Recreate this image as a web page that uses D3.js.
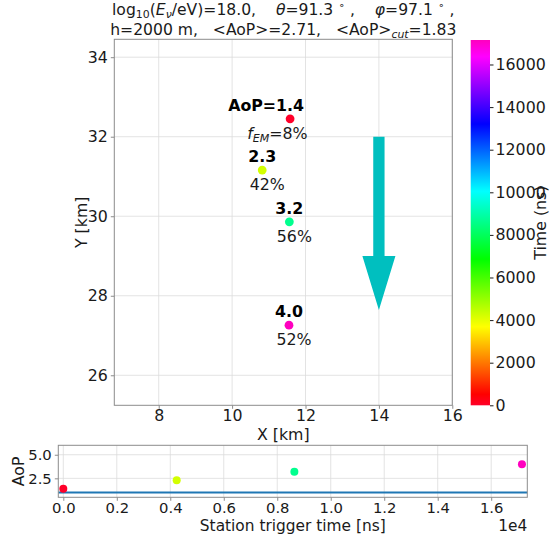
<!DOCTYPE html>
<html>
<head>
<meta charset="utf-8">
<script src="https://cdn.jsdelivr.net/npm/d3@7"></script>
<style>
  body { margin: 0; background: #fff; }
  svg { font-family: "DejaVu Sans", sans-serif; }
</style>
</head>
<body>
<svg width="551" height="539"></svg>
<script>
// station data
var stationX = [11.58, 10.82, 11.56, 11.55];      // km
var stationY = [32.45, 31.16, 29.86, 27.26];      // km
var triggerTime = [0, 4240, 8640, 17150];         // ns
var aopValues = [1.4, 2.3, 3.2, 4.0];
var fEMValues = [8, 42, 56, 52];                  // %
var aopCut = 1.0;

// shower direction arrow (km)
var arrowStart = [14, 32];
var arrowHeadBase = 29;
var arrowTip = 27.64;

var xTicks = [8, 10, 12, 14, 16];
var yTicks = [26, 28, 30, 32, 34];
var timeTicks = [0, 0.2, 0.4, 0.6, 0.8, 1.0, 1.2, 1.4, 1.6];  // x 1e4
var aopTicks = [2.5, 5.0];
var cbarTicks = [0, 2000, 4000, 6000, 8000, 10000, 12000, 14000, 16000];

var fs = 15.8;
var titleFs = 15.6;
var textColor = "#1a1a1a";
var spineColor = "#8c8c8c";
var gridColor = "#dcdcdc";
var sp = "\u00a0";

// matplotlib gist_rainbow
var gistRainbow = [
    [0.000, [1.00, 0.00, 0.16]],
    [0.030, [1.00, 0.00, 0.00]],
    [0.215, [1.00, 1.00, 0.00]],
    [0.400, [0.00, 1.00, 0.00]],
    [0.586, [0.00, 1.00, 1.00]],
    [0.770, [0.00, 0.00, 1.00]],
    [0.954, [1.00, 0.00, 1.00]],
    [1.000, [1.00, 0.00, 0.75]]
];
function cmap(t) {
    t = Math.max(0, Math.min(1, t));
    for (var i = 1; i < gistRainbow.length; i++) {
        var a = gistRainbow[i - 1], b = gistRainbow[i];
        if (t <= b[0]) {
            var f = (t - a[0]) / (b[0] - a[0]);
            var c = a[1].map((v, k) => Math.round(255 * (v + f * (b[1][k] - v))));
            return d3.rgb(c[0], c[1], c[2]).formatHex();
        }
    }
    return "#ff00bf";
}
var vmax = d3.max(triggerTime);
var color = (t) => cmap(t / vmax);

var svg = d3.select("svg");

// rich text helper (italic / sub / sup pieces)
function rich(sel, parts, size) {
    var shift = 0;
    parts.forEach(function (p) {
        var target = p.sub ? 0.22 * size : p.sup ? -0.38 * size : 0;
        sel.append("tspan")
            .attr("dy", target - shift)
            .style("font-size", (p.sub || p.sup) ? size * 0.7 + "px" : size + "px")
            .style("font-style", p.it ? "italic" : null)
            .text(p.t.replace(/ /g, sp));
        shift = target;
    });
    return sel;
}

function textWidth(str, weight) {
    var t = svg.append("text").style("font-size", fs + "px")
        .style("font-weight", weight || null).text(str);
    var w = t.node().getComputedTextLength();
    t.remove();
    return w;
}

// ---------- main map ----------
var x = d3.scaleLinear().domain([6.79, 16]).range([114.3, 452.3]);
var y = d3.scaleLinear().domain([25.245, 34.45]).range([405.3, 39.3]);

var main = svg.append("g");

main.selectAll(".gx").data(xTicks).enter().append("line")
    .attr("x1", d => x(d)).attr("x2", d => x(d))
    .attr("y1", y.range()[0]).attr("y2", y.range()[1])
    .attr("stroke", gridColor).attr("stroke-width", 0.8);
main.selectAll(".gy").data(yTicks).enter().append("line")
    .attr("y1", d => y(d)).attr("y2", d => y(d))
    .attr("x1", x.range()[0]).attr("x2", x.range()[1])
    .attr("stroke", gridColor).attr("stroke-width", 0.8);

var xAxis = main.append("g").attr("transform", "translate(0," + y.range()[0] + ")")
    .call(d3.axisBottom(x).tickValues(xTicks).tickSize(3.5).tickPadding(0.5).tickFormat(d3.format("d")));
var yAxis = main.append("g").attr("transform", "translate(" + x.range()[0] + ",0)")
    .call(d3.axisLeft(y).tickValues(yTicks).tickSize(3.5).tickPadding(3).tickFormat(d3.format("d")));
[xAxis, yAxis].forEach(function (a) {
    a.select(".domain").remove();
    a.selectAll("line").attr("stroke", spineColor);
    a.selectAll("text").style("font-size", fs + "px").attr("fill", textColor).style("font-family", "DejaVu Sans");
});

main.append("rect")
    .attr("x", x.range()[0]).attr("y", y.range()[1])
    .attr("width", x.range()[1] - x.range()[0]).attr("height", y.range()[0] - y.range()[1])
    .attr("fill", "none").attr("stroke", spineColor).attr("stroke-width", 1);

// arrow
var shaftHalf = 0.154, headHalf = 0.45;
var ax = arrowStart[0];
var arrowPts = [
    [ax - shaftHalf, arrowStart[1]], [ax + shaftHalf, arrowStart[1]],
    [ax + shaftHalf, arrowHeadBase], [ax + headHalf, arrowHeadBase],
    [ax, arrowTip],
    [ax - headHalf, arrowHeadBase], [ax - shaftHalf, arrowHeadBase]
];
main.append("polygon")
    .attr("points", arrowPts.map(p => x(p[0]) + "," + y(p[1])).join(" "))
    .attr("fill", "#00bfbf");

// stations
main.selectAll(".st").data(stationX).enter().append("circle")
    .attr("cx", (d, i) => x(d)).attr("cy", (d, i) => y(stationY[i]))
    .attr("r", 4.4).attr("fill", (d, i) => color(triggerTime[i]));

aopValues.forEach(function (v, i) {
    var cx = x(stationX[i]), cy = y(stationY[i]);
    var s = v.toFixed(1);
    var w = textWidth(s, "bold");
    main.append("text")
        .attr("x", cx + w / 2).attr("y", cy - 8)
        .attr("text-anchor", "end")
        .style("font-size", fs + "px").style("font-weight", "bold").attr("fill", "#000")
        .text(i === 0 ? "AoP=" + s : s);

    var p = fEMValues[i] + "%";
    var wp = textWidth(p);
    var t = main.append("text")
        .attr("x", cx + 5 + wp / 2).attr("y", cy + 20)
        .attr("text-anchor", "end").attr("fill", textColor);
    if (i === 0) {
        rich(t, [{ t: "f", it: true }, { t: "EM", it: true, sub: true }, { t: "=" + p }], fs);
    } else {
        t.style("font-size", fs + "px").text(p);
    }
});

main.append("text").attr("x", (x.range()[0] + x.range()[1]) / 2).attr("y", 439.5)
    .attr("text-anchor", "middle").style("font-size", fs + "px").attr("fill", textColor)
    .text("X [km]");
main.append("text").attr("transform", "translate(87," + (y.range()[0] + y.range()[1]) / 2 + ") rotate(-90)")
    .attr("text-anchor", "middle").style("font-size", fs + "px").attr("fill", textColor)
    .text("Y [km]");

// title, centred over the map
var titleX = (x.range()[0] + x.range()[1]) / 2;
var title = svg.append("g").attr("fill", textColor);
rich(title.append("text").attr("x", titleX).attr("y", 15).attr("text-anchor", "middle"), [
    { t: "log" }, { t: "10", sub: true }, { t: "(" }, { t: "E", it: true }, { t: "ν", it: true, sub: true },
    { t: "/eV)=18.0,    " }, { t: "θ", it: true }, { t: "=91.3 " }, { t: "∘", sup: true }, { t: " ,    " },
    { t: "φ", it: true }, { t: "=97.1 " }, { t: "∘", sup: true }, { t: " ," }
], titleFs);
rich(title.append("text").attr("x", titleX).attr("y", 34.5).attr("text-anchor", "middle"), [
    { t: "h=2000 m,   <AoP>=2.71,   <AoP>" }, { t: "cut", it: true, sub: true }, { t: "=1.83" }
], titleFs);

// ---------- colorbar ----------
var cb = svg.append("g");
var cbX = 470.7, cbW = 19.3;
var cy = d3.scaleLinear().domain([0, vmax]).range([405.3, 40]);
var grad = svg.append("defs").append("linearGradient").attr("id", "cbgrad")
    .attr("x1", 0).attr("y1", 1).attr("x2", 0).attr("y2", 0);
grad.selectAll("stop").data(gistRainbow).enter().append("stop")
    .attr("offset", d => d[0])
    .attr("stop-color", d => d3.rgb(d[1][0] * 255, d[1][1] * 255, d[1][2] * 255).formatHex());
cb.append("rect").attr("x", cbX).attr("y", cy.range()[1]).attr("width", cbW)
    .attr("height", cy.range()[0] - cy.range()[1]).attr("fill", "url(#cbgrad)");
var cbAxis = cb.append("g").attr("transform", "translate(" + (cbX + cbW) + ",0)")
    .call(d3.axisRight(cy).tickValues(cbarTicks).tickSize(3.5).tickPadding(2).tickFormat(d3.format("d")));
cbAxis.select(".domain").remove();
cbAxis.selectAll("line").attr("stroke", textColor);
cbAxis.selectAll("text").style("font-size", fs + "px").attr("fill", textColor).style("font-family", "DejaVu Sans");
cb.append("text").attr("transform", "translate(546," + (cy.range()[0] + cy.range()[1]) / 2 + ") rotate(-90)")
    .attr("text-anchor", "middle").style("font-size", fs + "px").attr("fill", textColor)
    .text("Time (ns)");

// ---------- AoP vs trigger time ----------
var tx = d3.scaleLinear().domain([-187, 17350]).range([58.3, 527.3]);
var ty = d3.scaleLinear().domain([0.49, 6.0]).range([497.3, 445.3]);
var low = svg.append("g");

low.selectAll(".gtx").data(timeTicks).enter().append("line")
    .attr("x1", d => tx(d * 1e4)).attr("x2", d => tx(d * 1e4))
    .attr("y1", ty.range()[0]).attr("y2", ty.range()[1])
    .attr("stroke", gridColor).attr("stroke-width", 0.8);
low.selectAll(".gty").data(aopTicks).enter().append("line")
    .attr("y1", d => ty(d)).attr("y2", d => ty(d))
    .attr("x1", tx.range()[0]).attr("x2", tx.range()[1])
    .attr("stroke", gridColor).attr("stroke-width", 0.8);

var txAxis = low.append("g").attr("transform", "translate(0," + ty.range()[0] + ")")
    .call(d3.axisBottom(tx).tickValues(timeTicks.map(d => d * 1e4)).tickSize(3.5).tickPadding(1.5)
        .tickFormat(d => (d / 1e4).toFixed(1)));
var tyAxis = low.append("g").attr("transform", "translate(" + tx.range()[0] + ",0)")
    .call(d3.axisLeft(ty).tickValues(aopTicks).tickSize(3.5).tickPadding(3).tickFormat(d3.format(".1f")));
[txAxis, tyAxis].forEach(function (a) {
    a.select(".domain").remove();
    a.selectAll("line").attr("stroke", spineColor);
    a.selectAll("text").style("font-size", "14.8px").attr("fill", textColor).style("font-family", "DejaVu Sans");
});

low.append("line")
    .attr("x1", tx.range()[0]).attr("x2", tx.range()[1])
    .attr("y1", ty(aopCut)).attr("y2", ty(aopCut))
    .attr("stroke", "#1f77b4").attr("stroke-width", 2);

low.append("rect")
    .attr("x", tx.range()[0]).attr("y", ty.range()[1])
    .attr("width", tx.range()[1] - tx.range()[0]).attr("height", ty.range()[0] - ty.range()[1])
    .attr("fill", "none").attr("stroke", spineColor).attr("stroke-width", 1);

low.selectAll(".pt").data(triggerTime).enter().append("circle")
    .attr("cx", d => tx(d)).attr("cy", (d, i) => ty(aopValues[i]))
    .attr("r", 4).attr("fill", d => color(d));

low.append("text").attr("x", (tx.range()[0] + tx.range()[1]) / 2).attr("y", 531)
    .attr("text-anchor", "middle").style("font-size", "15.4px").attr("fill", textColor)
    .text("Station trigger time [ns]");
low.append("text").attr("x", tx.range()[1]).attr("y", 531)
    .attr("text-anchor", "end").style("font-size", "15.4px").attr("fill", textColor)
    .text("1e4");
low.append("text").attr("transform", "translate(24," + (ty.range()[0] + ty.range()[1]) / 2 + ") rotate(-90)")
    .attr("text-anchor", "middle").style("font-size", fs + "px").attr("fill", textColor)
    .text("AoP");
</script>
</body>
</html>
